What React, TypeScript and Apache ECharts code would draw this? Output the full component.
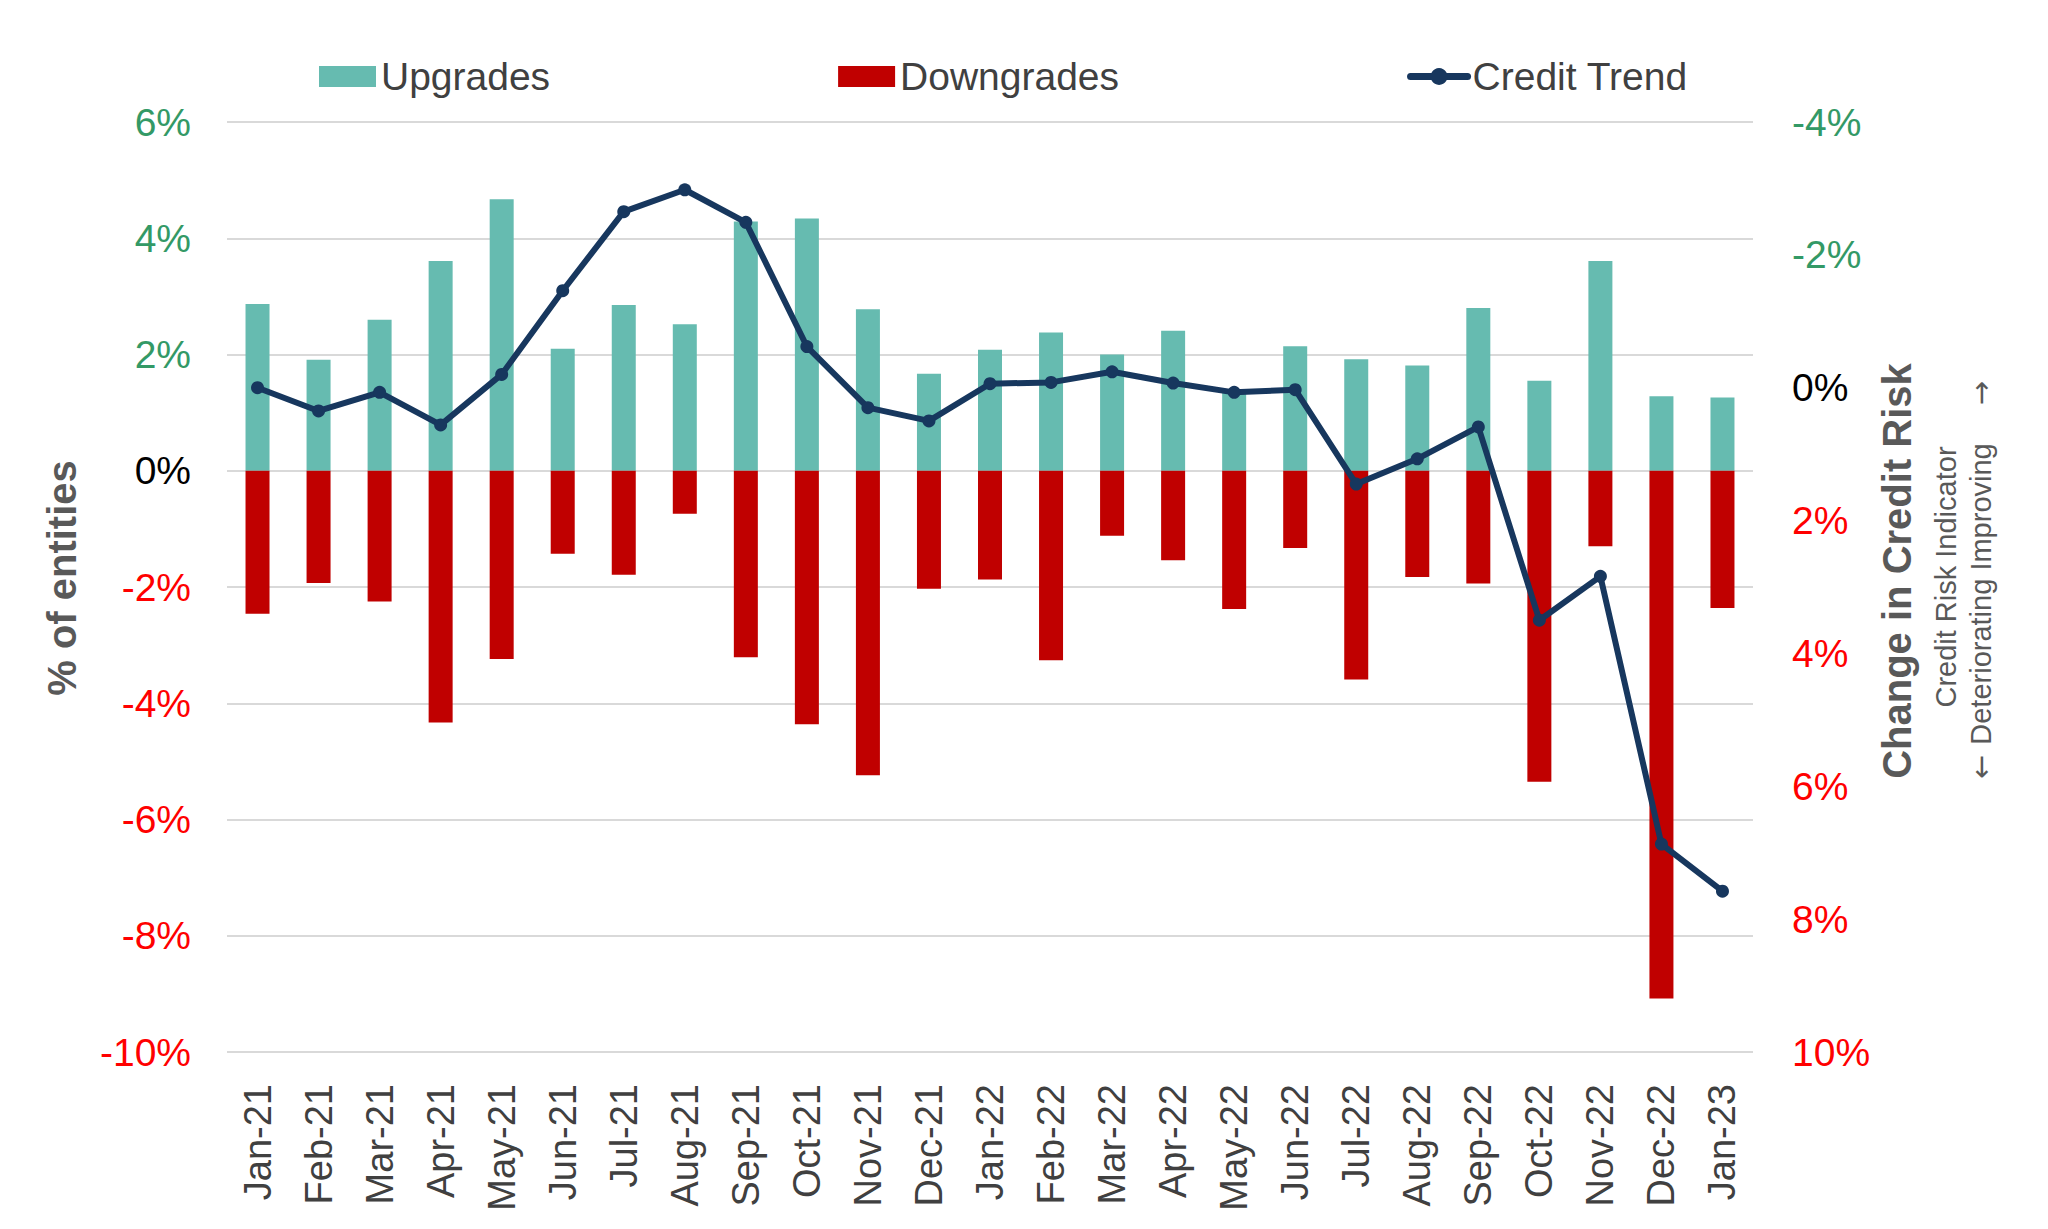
import React, { useEffect, useRef } from "react";
import * as echarts from "echarts";

const categories = [
  "Jan-21", "Feb-21", "Mar-21", "Apr-21", "May-21", "Jun-21", "Jul-21", "Aug-21", "Sep-21", "Oct-21", "Nov-21", "Dec-21",
  "Jan-22", "Feb-22", "Mar-22", "Apr-22", "May-22", "Jun-22", "Jul-22", "Aug-22", "Sep-22", "Oct-22", "Nov-22", "Dec-22",
  "Jan-23",
];

const upgrades = [
  2.87, 1.91, 2.6, 3.61, 4.67, 2.1, 2.85, 2.52, 4.29, 4.34, 2.78, 1.67,
  2.08, 2.38, 2.0, 2.41, 1.34, 2.14, 1.92, 1.81, 2.8, 1.55, 3.61, 1.28,
  1.26,
];

const downgrades = [
  -2.46, -1.93, -2.25, -4.33, -3.24, -1.43, -1.79, -0.74, -3.21, -4.36, -5.24, -2.03,
  -1.87, -3.26, -1.12, -1.54, -2.38, -1.33, -3.59, -1.83, -1.94, -5.35, -1.3, -9.08,
  -2.36,
];

const creditTrend = [
  0.0, 0.35, 0.07, 0.56, -0.2, -1.46, -2.65, -2.98, -2.49, -0.62, 0.3, 0.5,
  -0.06, -0.08, -0.24, -0.07, 0.07, 0.03, 1.45, 1.07, 0.59, 3.5, 2.84, 6.87,
  7.58,
];

const leftTicks = { min: -10, max: 6, interval: 2 };
const rightTicks = { min: -4, max: 10, interval: 2 };

const FONT = "'Liberation Sans', Arial, sans-serif";
const GREEN = "#339966";
const RED = "#FF0000";
const TITLE_GRAY = "#595959";
const NAVY = "#17375E";

export default function App() {
  const ref = useRef<HTMLDivElement>(null);

  useEffect(() => {
    if (!ref.current) return;
    const chart = echarts.init(ref.current, undefined, { renderer: "svg" });
    const vText = (text: string, x: number, y: number, font: string) => ({
      type: "text",
      x,
      y,
      rotation: Math.PI / 2,
      style: { text, font, fill: TITLE_GRAY, align: "center", verticalAlign: "middle" },
    });
    chart.setOption({
      animation: false,
      backgroundColor: "#ffffff",
      textStyle: { fontFamily: FONT },
      legend: {
        top: 52,
        left: 314,
        itemGap: 288,
        itemWidth: 57,
        itemHeight: 21,
        textStyle: { fontSize: 39, color: "#404040", fontFamily: FONT },
        data: [
          { name: "Upgrades", icon: "rect" },
          { name: "Downgrades", icon: "rect" },
          {
            name: "Credit Trend",
            lineStyle: { width: 7, color: NAVY, cap: "round" },
            itemStyle: { color: NAVY },
          },
        ],
      },
      grid: { left: 227, right: 295, top: 122, bottom: 177 },
      xAxis: {
        type: "category",
        data: categories,
        boundaryGap: true,
        axisLine: { show: false, onZero: false },
        axisTick: { show: false },
        axisLabel: {
          rotate: 90,
          margin: 32,
          fontSize: 38,
          color: "#404040",
          fontFamily: FONT,
          interval: 0,
        },
        splitLine: { show: false },
      },
      yAxis: [
        {
          type: "value",
          min: leftTicks.min,
          max: leftTicks.max,
          interval: leftTicks.interval,
          axisLine: { show: false },
          axisTick: { show: false },
          splitLine: { show: true, lineStyle: { color: "#d9d9d9", width: 2 } },
          axisLabel: {
            margin: 36,
            fontSize: 39,
            fontFamily: FONT,
            formatter: (v: number) => `${v}%`,
            color: (v: any) => {
              const n = Number(v);
              return n > 0 ? GREEN : n < 0 ? RED : "#000000";
            },
          },
        },
        {
          type: "value",
          inverse: true,
          min: rightTicks.min,
          max: rightTicks.max,
          interval: rightTicks.interval,
          position: "right",
          axisLine: { show: false },
          axisTick: { show: false },
          splitLine: { show: false },
          axisLabel: {
            margin: 39,
            fontSize: 39,
            fontFamily: FONT,
            formatter: (v: number) => `${v}%`,
            color: (v: any) => {
              const n = Number(v);
              return n < 0 ? GREEN : n > 0 ? RED : "#000000";
            },
          },
        },
      ],
      series: [
        {
          name: "Upgrades",
          type: "bar",
          stack: "total",
          barWidth: 24,
          data: upgrades,
          itemStyle: { color: "#66BBB0" },
        },
        {
          name: "Downgrades",
          type: "bar",
          stack: "total",
          barWidth: 24,
          data: downgrades,
          itemStyle: { color: "#C00000" },
        },
        {
          name: "Credit Trend",
          type: "line",
          yAxisIndex: 1,
          data: creditTrend,
          symbol: "circle",
          symbolSize: 13,
          lineStyle: { color: NAVY, width: 6 },
          itemStyle: { color: NAVY },
          z: 5,
        },
      ],
      graphic: [
        vText("% of entities", 62, 578, `bold 40px ${FONT}`),
        vText("Change in Credit Risk", 1897, 571, `bold 40px ${FONT}`),
        vText("Credit Risk Indicator", 1946, 577, `29px ${FONT}`),
        vText("Deteriorating Improving", 1981, 594, `29px ${FONT}`),
        vText("\u2192", 1981, 393, `29px 'DejaVu Sans', sans-serif`),
        vText("\u2190", 1981, 767, `29px 'DejaVu Sans', sans-serif`),
      ],
    });
    return () => chart.dispose();
  }, []);

  return (
    <div
      ref={ref}
      style={{ position: "fixed", left: 0, top: 0, width: 2048, height: 1229, background: "#fff" }}
    />
  );
}
